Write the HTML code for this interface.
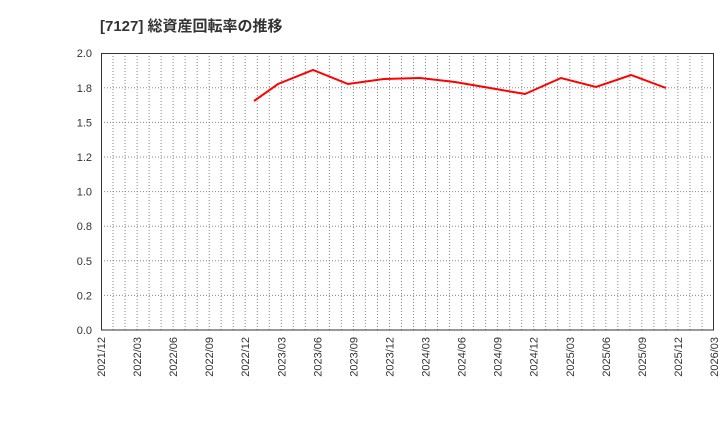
<!DOCTYPE html>
<html><head><meta charset="utf-8"><style>
body{margin:0;background:#fff;}
svg text{font-family:"Liberation Sans","Noto Sans CJK JP",sans-serif;}
</style></head><body>
<svg width="720" height="440" xmlns="http://www.w3.org/2000/svg">
<text x="100" y="31" font-size="15" font-weight="bold" fill="#333">[7127]  総資産回転率の推移</text>
<g id="g" stroke="#888" stroke-width="1" stroke-dasharray="1,2" fill="none"></g>
<rect x="101.5" y="53.5" width="612" height="276.5" fill="none" stroke="#333" stroke-width="1"/>
<g id="yl" font-size="11" fill="#333" text-anchor="end"></g>
<g id="xl" font-size="11" fill="#333"></g>
<polyline fill="none" stroke="#f00" stroke-width="2" points="254,101 278,84 313,70 348,84 384,79 420,78 455,82 490,88 525,94 561,78 596,87 631,75 666,88"/>
</svg>
<script>
var ns="http://www.w3.org/2000/svg",g=document.getElementById('g'),yl=document.getElementById('yl'),xl=document.getElementById('xl');
function el(p,t,a,tx){var e=document.createElementNS(ns,t);for(var k in a)e.setAttribute(k,a[k]);if(tx)e.textContent=tx;p.appendChild(e);}
var labs=["0.0","0.2","0.5","0.8","1.0","1.2","1.5","1.8","2.0"];
for(var i=0;i<9;i++){var y=330-i*34.6;if(i>0&&i<8)el(g,'line',{x1:101,x2:714,y1:y.toFixed(1),y2:y.toFixed(1)});el(yl,'text',{x:92,y:(y+4).toFixed(1)},labs[i]);}
for(var m=1;m<51;m++){var x=101+m*613/51;el(g,'line',{x1:x.toFixed(1),x2:x.toFixed(1),y1:53,y2:330});}
var yr=2021,mo=12;
for(var q=0;q<18;q++){var x=101+q*613/17;var s=yr+"/"+(mo<10?"0"+mo:mo);el(xl,'text',{x:0,y:0,'text-anchor':'end',transform:'translate('+(x+4).toFixed(1)+',337) rotate(-90)'},s);mo+=3;if(mo>12){mo-=12;yr++;}}
</script>
</body></html>
